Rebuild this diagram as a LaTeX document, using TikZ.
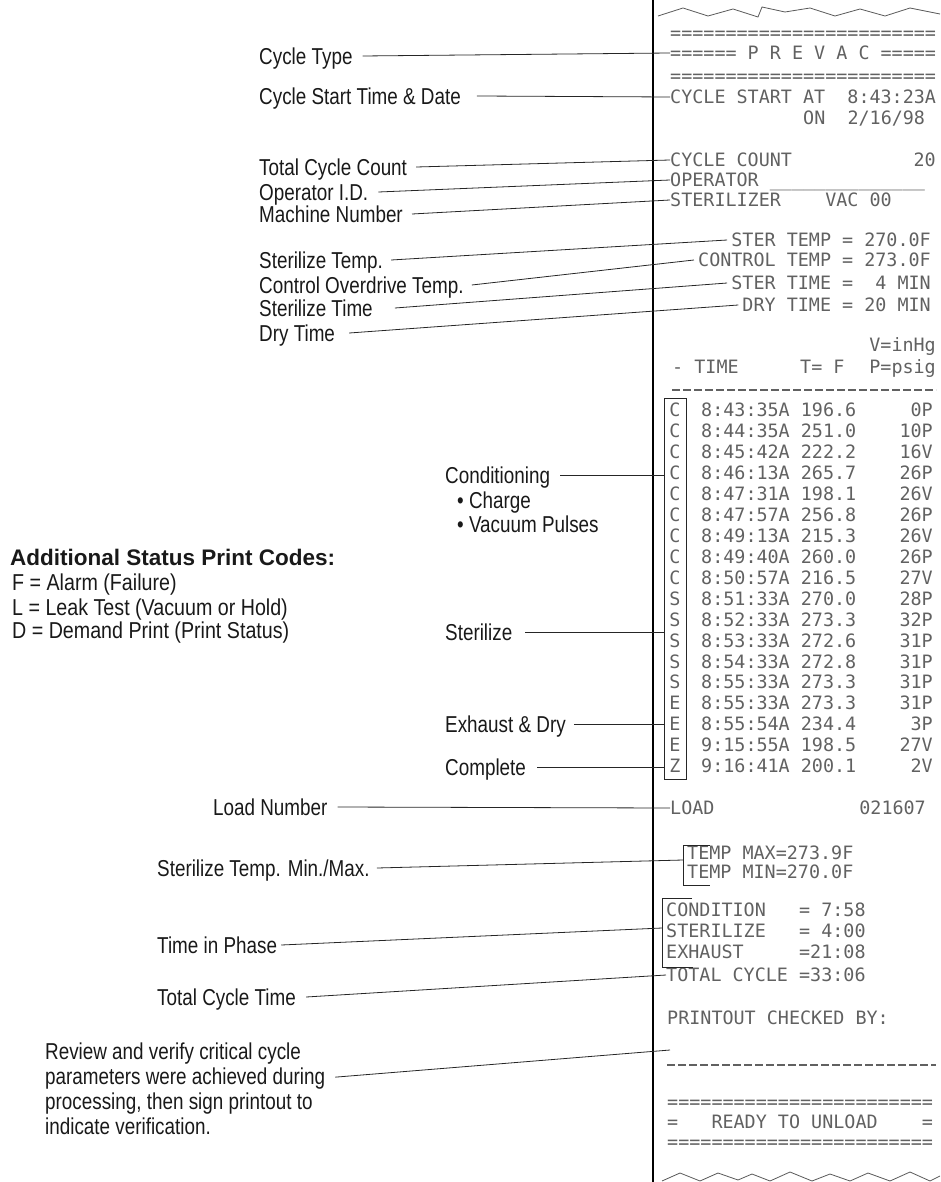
\documentclass[tikz,border=0pt]{standalone}
\usepackage{fontspec}
\setmainfont[FakeStretch=0.82]{Liberation Sans}
\newfontfamily\listfont[FakeStretch=0.855]{Liberation Sans}
\newfontfamily\headfont[FakeStretch=1.0]{Liberation Sans}
\newfontfamily\printfont{DejaVu Sans Mono}

\tikzset{
  lblbase/.style={inner xsep=4pt, inner ysep=0pt, font=\fontsize{23}{25}\selectfont, text=black!90},
  lbl/.style={lblbase, anchor=west, text height=16.5pt, text depth=0pt},
  codeitem/.style={lbl, font=\listfont\fontsize{23}{25}\selectfont},
  prt/.style={anchor=west, inner sep=0pt, text height=13.4pt, text depth=0pt, font=\printfont\fontsize{18.4}{20}\selectfont, text=black!62},
  lead/.style={draw=black!85, line width=0.8pt},
}

\begin{document}
\begin{tikzpicture}[x=1pt,y=-1pt]
\useasboundingbox (0,0) rectangle (940,1182);

% paper edge and torn ends
\draw[line width=2.2pt] (653,0) -- (653,1182);
\draw[black!65, line width=0.8pt] (658,16) -- (683,8) -- (708,16) -- (733,9) -- (758,17) -- (762,7) -- (785,12) -- (810,8) -- (835,16) -- (860,9) -- (885,16) -- (910,8) -- (940,14);
\draw[black!65, line width=0.8pt] (662,1181) -- (680,1173) -- (700,1181) -- (718,1173) -- (738,1180) -- (752,1174) -- (770,1181) -- (790,1172) -- (812,1181) -- (830,1174) -- (850,1181) -- (868,1173) -- (890,1181) -- (910,1172) -- (930,1181) -- (940,1176);

% printout header
\node[prt] (pbar1) at (670,33) {========================};
\node[prt] (pprevac) at (670,53) {======~P~R~E~V~A~C~=====};
\node[prt] (pbar2) at (670,76) {========================};
\node[prt] (pstart) at (670,97) {CYCLE START AT~~8:43:23A};
\node[prt] (pdate) at (803,118) {ON~~2/16/98};
\node[prt] (pcount) at (670,160) {CYCLE COUNT};
\node[prt, anchor=east] (pcountv) at (936,160) {20};
\node[prt] (poper) at (670,180) {OPERATOR \_\_\_\_\_\_\_\_\_\_\_\_\_\_};
\node[prt] (pmach) at (670,200) {STERILIZER~~~~VAC 00};

\node[prt, anchor=east] (pstemp) at (931,240) {STER TEMP = 270.0F};
\node[prt, anchor=east] (pctemp) at (931,260) {CONTROL TEMP = 273.0F};
\node[prt, anchor=east] (pstime) at (931,283) {STER TIME =~~4 MIN};
\node[prt, anchor=east] (pdtime) at (931,305) {DRY TIME = 20 MIN};

\node[prt, anchor=east] (punitv) at (936,345) {V=inHg};
\node[prt] (phtime) at (672,367) {- TIME};
\node[prt] (phtemp) at (800,367) {T= F};
\node[prt, anchor=east] (punitp) at (936,367) {P=psig};
\draw[black!62, line width=1.2pt, dash pattern=on 8pt off 3pt] (672,390) -- (936,390);

% status column
\node[draw=black!85, line width=0.8pt, minimum width=22pt, minimum height=381pt, inner sep=0pt] (codebox) at (675,588.5) {};

\node[prt, anchor=center] (c1) at (675,410) {C};
\node[prt] (t1) at (701,410) {8:43:35A 196.6};
\node[prt, anchor=east] (v1) at (933,410) {0P};
\node[prt, anchor=center] (c2) at (675,430.9) {C};
\node[prt] (t2) at (701,430.9) {8:44:35A 251.0};
\node[prt, anchor=east] (v2) at (933,430.9) {10P};
\node[prt, anchor=center] (c3) at (675,451.9) {C};
\node[prt] (t3) at (701,451.9) {8:45:42A 222.2};
\node[prt, anchor=east] (v3) at (933,451.9) {16V};
\node[prt, anchor=center] (c4) at (675,472.8) {C};
\node[prt] (t4) at (701,472.8) {8:46:13A 265.7};
\node[prt, anchor=east] (v4) at (933,472.8) {26P};
\node[prt, anchor=center] (c5) at (675,493.8) {C};
\node[prt] (t5) at (701,493.8) {8:47:31A 198.1};
\node[prt, anchor=east] (v5) at (933,493.8) {26V};
\node[prt, anchor=center] (c6) at (675,514.7) {C};
\node[prt] (t6) at (701,514.7) {8:47:57A 256.8};
\node[prt, anchor=east] (v6) at (933,514.7) {26P};
\node[prt, anchor=center] (c7) at (675,535.6) {C};
\node[prt] (t7) at (701,535.6) {8:49:13A 215.3};
\node[prt, anchor=east] (v7) at (933,535.6) {26V};
\node[prt, anchor=center] (c8) at (675,556.6) {C};
\node[prt] (t8) at (701,556.6) {8:49:40A 260.0};
\node[prt, anchor=east] (v8) at (933,556.6) {26P};
\node[prt, anchor=center] (c9) at (675,577.5) {C};
\node[prt] (t9) at (701,577.5) {8:50:57A 216.5};
\node[prt, anchor=east] (v9) at (933,577.5) {27V};
\node[prt, anchor=center] (c10) at (675,598.5) {S};
\node[prt] (t10) at (701,598.5) {8:51:33A 270.0};
\node[prt, anchor=east] (v10) at (933,598.5) {28P};
\node[prt, anchor=center] (c11) at (675,619.4) {S};
\node[prt] (t11) at (701,619.4) {8:52:33A 273.3};
\node[prt, anchor=east] (v11) at (933,619.4) {32P};
\node[prt, anchor=center] (c12) at (675,640.3) {S};
\node[prt] (t12) at (701,640.3) {8:53:33A 272.6};
\node[prt, anchor=east] (v12) at (933,640.3) {31P};
\node[prt, anchor=center] (c13) at (675,661.3) {S};
\node[prt] (t13) at (701,661.3) {8:54:33A 272.8};
\node[prt, anchor=east] (v13) at (933,661.3) {31P};
\node[prt, anchor=center] (c14) at (675,682.2) {S};
\node[prt] (t14) at (701,682.2) {8:55:33A 273.3};
\node[prt, anchor=east] (v14) at (933,682.2) {31P};
\node[prt, anchor=center] (c15) at (675,703.2) {E};
\node[prt] (t15) at (701,703.2) {8:55:33A 273.3};
\node[prt, anchor=east] (v15) at (933,703.2) {31P};
\node[prt, anchor=center] (c16) at (675,724.1) {E};
\node[prt] (t16) at (701,724.1) {8:55:54A 234.4};
\node[prt, anchor=east] (v16) at (933,724.1) {3P};
\node[prt, anchor=center] (c17) at (675,745) {E};
\node[prt] (t17) at (701,745) {9:15:55A 198.5};
\node[prt, anchor=east] (v17) at (933,745) {27V};
\node[prt, anchor=center] (c18) at (675,766) {Z};
\node[prt] (t18) at (701,766) {9:16:41A 200.1};
\node[prt, anchor=east] (v18) at (933,766) {2V};

% totals
\node[prt] (pload) at (670,808) {LOAD};
\node[prt, anchor=east] (ploadv) at (926,808) {021607};
\node[prt] (pmax) at (687,853) {TEMP MAX=273.9F};
\node[prt] (pmin) at (687,872) {TEMP MIN=270.0F};
\draw[lead] (710,845) -- (683,845) -- (683,885) -- (710,885);
\coordinate (minmaxbr) at (683,860);

\node[prt] (pcondition) at (666,910) {CONDITION~~~= 7:58};
\node[prt] (psterilize) at (666,931) {STERILIZE~~~= 4:00};
\node[prt] (pexhaust) at (666,952) {EXHAUST~~~~~=21:08};
\node[prt] (ptotal) at (666,975) {TOTAL CYCLE =33:06};
\draw[lead] (692,898) -- (662,898) -- (662,967) -- (693,967);
\coordinate (phasebr) at (662,928);

\node[prt] (pcheck) at (667,1018) {PRINTOUT CHECKED BY:};
\coordinate (signline) at (670,1050);
\draw[black!62, line width=1.2pt, dash pattern=on 8pt off 3pt] (667,1065) -- (936,1065);
\node[prt] (pbar3) at (667,1102) {========================};
\node[prt] (pready) at (667,1122) {=~~~READY TO UNLOAD~~~~=};
\node[prt] (pbar4) at (667,1142) {========================};

% labels
\node[lbl] (lbltype) at (255,56) {Cycle Type};
\node[lbl] (lblstart) at (255,96) {Cycle Start Time \& Date};
\node[lbl] (lblcount) at (255,167) {Total Cycle Count};
\node[lbl] (lbloper) at (255,192) {Operator I.D.};
\node[lbl] (lblmach) at (255,214) {Machine Number};
\node[lbl] (lblstemp) at (255,260) {Sterilize Temp.};
\node[lbl] (lblctemp) at (255,285) {Control Overdrive Temp.};
\node[lbl] (lblstime) at (255,308) {Sterilize Time};
\node[lbl] (lbldtime) at (255,333) {Dry Time};

\node[lbl] (lblcond) at (441,475) {Conditioning};
\node[lbl] (lblcharge) at (453,500) {• Charge};
\node[lbl] (lblvac) at (453,524) {• Vacuum Pulses};
\node[lbl] (lblster) at (441,632) {Sterilize};
\node[lbl] (lblexh) at (441,724) {Exhaust \& Dry};
\node[lbl] (lblcomp) at (441,767) {Complete};

\node[lbl] (lblload) at (209,807) {Load Number};
\node[lbl] (lblminmax) at (153,868) {Sterilize Temp. Min./Max.};
\node[lbl] (lblphase) at (153,945) {Time in Phase};
\node[lbl] (lbltotal) at (153,997) {Total Cycle Time};
\node[lblbase, anchor=north west, align=left] (lblreview) at (41,1043) {Review and verify critical cycle\\parameters were achieved during\\processing, then sign printout to\\indicate verification.};

\node[lbl, font=\headfont\fontsize{22.5}{25}\selectfont\bfseries] (lblcodes) at (6,557) {Additional Status Print Codes:};
\node[codeitem] (lblf) at (8,582) {F = Alarm (Failure)};
\node[codeitem] (lbll) at (8,607) {L = Leak Test (Vacuum or Hold)};
\node[codeitem] (lbld) at (8,630) {D = Demand Print (Print Status)};

% leaders
\path[lead] ([xshift=6pt]lbltype.east) -- (pprevac.west);
\path[lead] ([xshift=12pt]lblstart.east) -- (pstart.west);
\path[lead] ([xshift=5pt]lblcount.east) -- (pcount.west);
\path[lead] ([xshift=6pt]lbloper.east) -- (poper.west);
\path[lead] ([xshift=5pt]lblmach.east) -- (pmach.west);
\path[lead] ([xshift=4pt]lblstemp.east) -- ([xshift=-4pt]pstemp.west);
\path[lead] ([xshift=4pt]lblctemp.east) -- ([xshift=-4pt]pctemp.west);
\path[lead] ([xshift=18pt]lblstime.east) -- ([xshift=-4pt]pstime.west);
\path[lead] ([xshift=10pt]lbldtime.east) -- ([xshift=-4pt]pdtime.west);
\path[lead] ([xshift=6pt]lblcond.east) -- (lblcond.east -| codebox.west);
\path[lead] ([xshift=9pt]lblster.east) -- (lblster.east -| codebox.west);
\path[lead] ([xshift=4pt]lblexh.east) -- (lblexh.east -| codebox.west);
\path[lead] ([xshift=7pt]lblcomp.east) -- (lblcomp.east -| codebox.west);
\path[lead] ([xshift=6pt]lblload.east) -- (pload.west);
\path[lead] ([xshift=3pt]lblminmax.east) -- (minmaxbr);
\path[lead] (lblphase.east) -- (phasebr);
\path[lead] ([xshift=6pt]lbltotal.east) -- (ptotal.west);
\path[lead] ([xshift=6pt,yshift=12pt]lblreview.east) -- (signline);
\end{tikzpicture}
\end{document}
